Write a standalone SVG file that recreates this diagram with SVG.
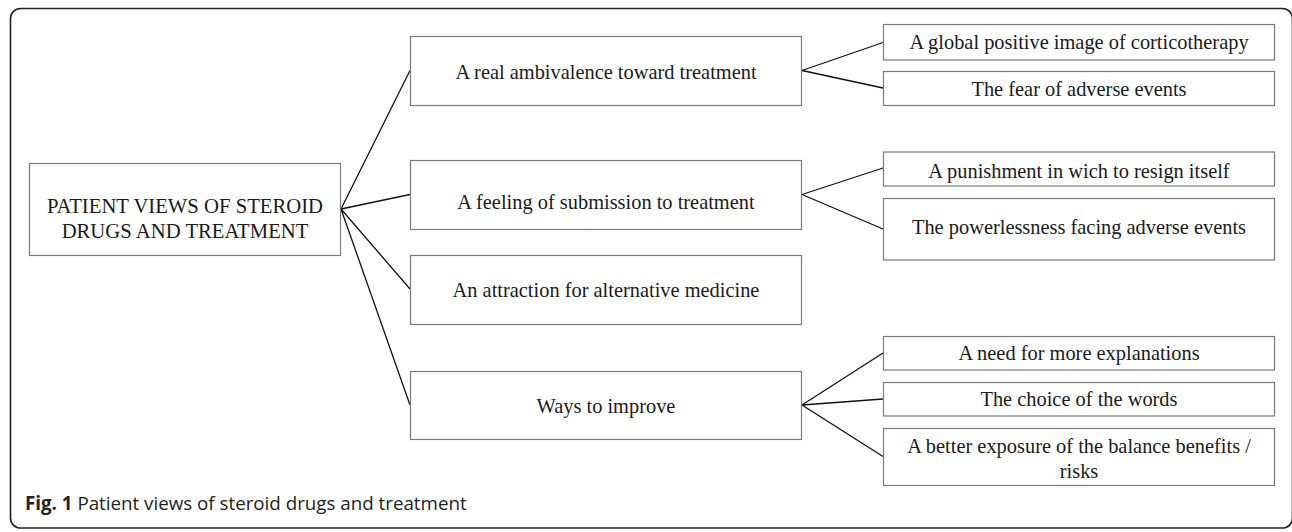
<svg xmlns="http://www.w3.org/2000/svg" width="1292" height="532" viewBox="0 0 1292 532">
<style>
.box{fill:#fff;stroke:#7a7a7a;stroke-width:1.2}
.t{font-family:"Liberation Serif","Times New Roman",serif;font-size:20.4px;fill:#1a1a1a;text-anchor:middle}
.r{font-size:20.7px}
.c{stroke:#111;stroke-width:1.3;fill:none}
.cap{font-family:"Open Sans","Noto Sans",sans-serif;font-size:18.75px;fill:#222}
</style>
<rect x="10.5" y="8.5" width="1282" height="519.5" rx="10" fill="none" stroke="#222" stroke-width="1.6"/>
<g id="connectors">
<path class="c" d="M341 209 L410 70.5 M341 209 L410 194.5 M341 209 L410 289 M341 209 L410 405"/>
<path class="c" d="M802 70.5 L883 42.5 M802 70.5 L883 88"/>
<path class="c" d="M802 194.5 L883 168 M802 194.5 L883 229"/>
<path class="c" d="M802 405 L883 353 M802 405 L883 399 M802 405 L883 456.5"/>
</g>
<g id="root"><rect class="box" x="29.5" y="163.5" width="311" height="92"/><text class="t r" x="185" y="213">PATIENT VIEWS OF STEROID</text><text class="t r" x="185" y="238">DRUGS AND TREATMENT</text></g>
<g id="n1"><rect class="box" x="410.5" y="36.5" width="391" height="69"/><text class="t" x="606" y="79">A real ambivalence toward treatment</text></g>
<g id="n2"><rect class="box" x="410.5" y="160.5" width="391" height="69"/><text class="t" x="606" y="209">A feeling of submission to treatment</text></g>
<g id="n3"><rect class="box" x="410.5" y="255.5" width="391" height="69"/><text class="t" x="606" y="297">An attraction for alternative medicine</text></g>
<g id="n4"><rect class="box" x="410.5" y="371.5" width="391" height="68"/><text class="t" x="606" y="413">Ways to improve</text></g>
<g id="n1a"><rect class="box" x="883.5" y="24.5" width="391" height="35.5"/><text class="t" x="1079" y="49">A global positive image of corticotherapy</text></g>
<g id="n1b"><rect class="box" x="883.5" y="71.5" width="391" height="34"/><text class="t" x="1079" y="96">The fear of adverse events</text></g>
<g id="n2a"><rect class="box" x="883.5" y="152" width="391" height="34"/><text class="t" x="1079" y="178">A punishment in wich to resign itself</text></g>
<g id="n2b"><rect class="box" x="883.5" y="198.5" width="391" height="61.5"/><text class="t" x="1079" y="234">The powerlessness facing adverse events</text></g>
<g id="n4a"><rect class="box" x="883.5" y="336.5" width="391" height="33.5"/><text class="t" x="1079" y="360">A need for more explanations</text></g>
<g id="n4b"><rect class="box" x="883.5" y="382.5" width="391" height="33.5"/><text class="t" x="1079" y="406">The choice of the words</text></g>
<g id="n4c"><rect class="box" x="883.5" y="428.5" width="391" height="57"/><text class="t" x="1079" y="453">A better exposure of the balance benefits /</text><text class="t" x="1079" y="478">risks</text></g>
<text class="cap" x="25" y="510"><tspan font-weight="bold">Fig. 1</tspan> Patient views of steroid drugs and treatment</text>
</svg>
